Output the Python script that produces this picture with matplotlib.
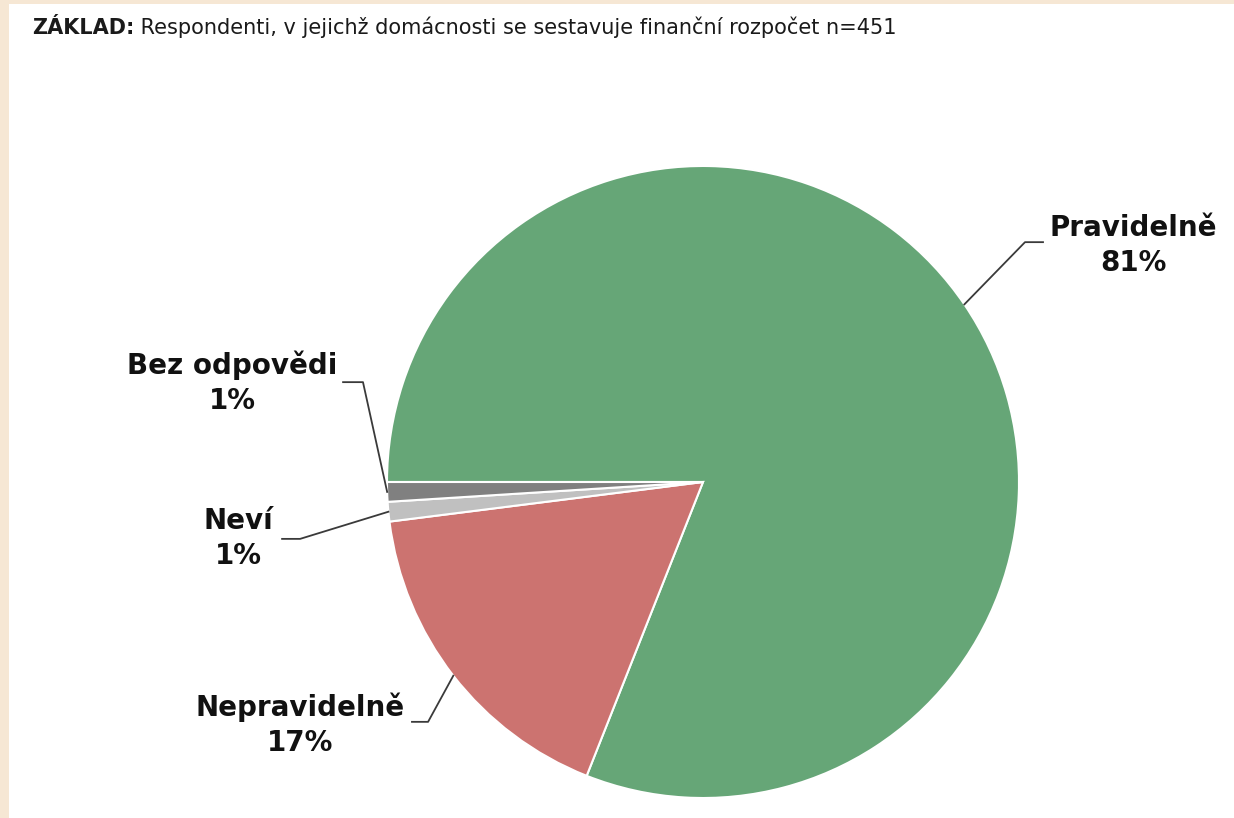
import matplotlib
matplotlib.use("Agg")
import matplotlib.pyplot as plt
import matplotlib.patches as mpatches
import numpy as np

# ── data ──────────────────────────────────────────────────────────────────────
LABELS = ["Pravidelně", "Nepravidelně", "Neví", "Bez odpovědi"]
VALUES = [81, 17, 1, 1]
COLORS = ["#66A677", "#CC7370", "#C0C0C0", "#808080"]

TITLE_BOLD = "ZÁKLAD:"
TITLE_REST = " Respondenti, v jejichž domácnosti se sestavuje finanční rozpočet n=451"

# label layout (data coords, pie radius = 1): elbow, line end, text centre
LABEL_POS = {
    "Pravidelně":   ((1.019, 0.759), (1.076, 0.759), (1.361, 0.748)),
    "Nepravidelně": ((-0.870, -0.759), (-0.921, -0.759), (-1.275, -0.768)),
    "Neví":         ((-1.275, -0.180), (-1.332, -0.180), (-1.470, -0.180)),
    "Bez odpovědi": ((-1.076, 0.316), (-1.139, 0.316), (-1.490, 0.313)),
}

W, H = 1234, 818
fig = plt.figure(figsize=(W / 100, H / 100), dpi=100)
fig.patch.set_facecolor("white")

# beige frame strips (left + top)
beige = "#F6E7D4"
fig.patches.append(mpatches.Rectangle((0, 0), 9 / W, 1, transform=fig.transFigure,
                                      facecolor=beige, edgecolor="none", zorder=0))
fig.patches.append(mpatches.Rectangle((0, 1 - 4 / H), 1, 4 / H, transform=fig.transFigure,
                                      facecolor=beige, edgecolor="none", zorder=0))

# pie axes: centre (703, 482) px, radius 316 px
cx, cy, r = 703, 482, 316
ax = fig.add_axes([(cx - r) / W, (H - cy - r) / H, 2 * r / W, 2 * r / H])

wedges, _ = ax.pie(VALUES, colors=COLORS, startangle=180, counterclock=False,
                   radius=1, wedgeprops={"edgecolor": "white", "linewidth": 1.5})
ax.set_xlim(-1, 1)
ax.set_ylim(-1, 1)
ax.set_aspect("equal")
ax.axis("off")

for w, lab, val in zip(wedges, LABELS, VALUES):
    mid = np.deg2rad((w.theta1 + w.theta2) / 2)
    anchor = (np.cos(mid), np.sin(mid))
    elbow, end, txt = LABEL_POS[lab]
    ax.plot([anchor[0], elbow[0], end[0]], [anchor[1], elbow[1], end[1]],
            color="#3a3a3a", lw=1.3, clip_on=False)
    ax.text(txt[0], txt[1], f"{lab}\n{val}%", ha="center", va="center",
            fontsize=20, fontweight="bold", color="#111111", linespacing=1.32,
            clip_on=False)

# title line
t1 = fig.text(32 / W, 1 - 34 / H, TITLE_BOLD, fontsize=15, fontweight="bold",
              color="#1a1a1a", ha="left", va="baseline")
fig.canvas.draw()
bb = t1.get_window_extent()
fig.text(bb.x1 / W, 1 - 34 / H, TITLE_REST, fontsize=15, color="#1a1a1a",
         ha="left", va="baseline")

fig.savefig("out.png", dpi=100)
